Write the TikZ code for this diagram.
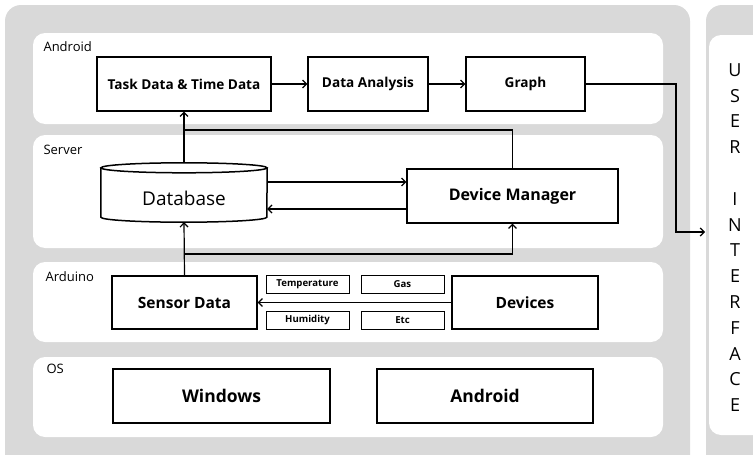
\documentclass[tikz,border=0pt]{standalone}
\usepackage{fontspec}
\setmainfont{Open Sans}
\usetikzlibrary{positioning,arrows.meta}

\definecolor{panelgray}{RGB}{217,217,217}

\tikzset{
  layer/.style={fill=white,rounded corners=12pt},
  box/.style={draw=black,line width=1.2pt,fill=white,inner sep=0pt},
  tag/.style={draw=black,line width=1pt,fill=white,inner sep=0pt,
    minimum height=18pt,font=\fontsize{9.6}{11}\selectfont\bfseries},
  lbl/.style={anchor=west,font=\fontsize{13}{15}\selectfont},
  link/.style={line width=1.2pt,-{Straight Barb[length=4pt,width=8pt]}}
}

\begin{document}
\begin{tikzpicture}[x=1pt,y=-1pt]
  \useasboundingbox (0,0) rectangle (753,455);
  \clip (0,0) rectangle (753,455);

  % panels
  \fill[panelgray,rounded corners=16pt] (5,5) rectangle (690,480);
  \fill[panelgray,rounded corners=16pt] (706,5) rectangle (780,480);
  \fill[layer] (709,35) rectangle (780,435);
  \fill[layer] (33,33) rectangle (663,124);
  \fill[layer] (33,135) rectangle (663,248);
  \fill[layer] (33,262) rectangle (663,342);
  \fill[layer] (33,357) rectangle (663,437);

  \node[lbl] (androidtag) at (40,47) {Android};
  \node[lbl] (servertag) at (40,150) {Server};
  \node[lbl] (arduinotag) at (42,277) {Arduino};
  \node[lbl] (ostag) at (43,369) {OS};

  % Android
  \node[box,minimum width=174pt,minimum height=54pt,font=\fontsize{13.6}{15}\selectfont\bfseries]
    (task) at (184,84) {Task Data \& Time Data};
  \node[box,minimum width=120pt,minimum height=54pt,font=\fontsize{13.6}{15}\selectfont\bfseries]
    (analysis) at (368,84) {Data Analysis};
  \node[box,minimum width=119pt,minimum height=54pt,font=\fontsize{13.6}{15}\selectfont\bfseries]
    (graph) at (525.5,84) {Graph};

  % Server
  \node[inner sep=0pt,minimum width=166pt,minimum height=59pt,font=\fontsize{19}{21}\selectfont]
    (db) at (184,192.5) {\raisebox{-13pt}[0pt][0pt]{Database}};
  \draw[line width=1.5pt] ([yshift=-5pt]db.north west) -- ([yshift=5pt]db.south west)
    arc[start angle=180,end angle=360,x radius=83pt,y radius=5pt]
    -- ([yshift=-5pt]db.north east);
  \draw[line width=1.5pt] ([yshift=-5pt]db.north) ellipse[x radius=83pt,y radius=5pt];
  \node[box,minimum width=211pt,minimum height=54pt,font=\fontsize{16}{18}\selectfont\bfseries]
    (devmgr) at (512.5,196) {Device Manager};

  % Arduino
  \node[box,minimum width=145pt,minimum height=53pt,font=\fontsize{15.5}{17}\selectfont\bfseries]
    (sensor) at (184.5,302.5) {Sensor Data};
  \node[tag,minimum width=83pt] (temp) at (307.5,284.5) {Temperature};
  \node[tag,minimum width=83pt] (humid) at (307.5,320) {Humidity};
  \node[tag,minimum width=83pt] (gas) at (402.5,284.5) {Gas};
  \node[tag,minimum width=83pt] (etc) at (402.5,320) {Etc};
  \node[box,minimum width=146pt,minimum height=53pt,font=\fontsize{15.5}{17}\selectfont\bfseries]
    (devices) at (525,302.5) {Devices};

  % OS
  \node[box,minimum width=217pt,minimum height=54pt,font=\fontsize{17.5}{19}\selectfont\bfseries]
    (windows) at (221.5,396) {Windows};
  \node[box,minimum width=216pt,minimum height=54pt,font=\fontsize{17.5}{19}\selectfont\bfseries]
    (androidos) at (485,396) {Android};

  % User interface
  \node[align=center,font=\fontsize{18}{25.8}\selectfont,inner sep=0pt,
    execute at begin node={\setlength{\baselineskip}{25.8pt}}]
    (ui) at (735,237.5) {U\\S\\E\\R\\[25.8pt]I\\N\\T\\E\\R\\F\\A\\C\\E};

  \coordinate (jtop) at (184,130);
  \coordinate (jbot) at (184,254);
  \coordinate (uiin) at (705,232);

  \path[link]
  (task) edge (analysis)
  (analysis) edge (graph)
  (db.north) edge (task.south)
  (sensor.north) edge (db.south)
  (devices.west) edge (sensor.east);

  \draw[line width=1.2pt] (devmgr.north) |- (jtop);
  \draw[link] (jbot) -| (devmgr.south);
  \draw[link] (graph.east) -| (676,232) -- (uiin);
  \draw[link] ([yshift=10.5pt]db.east) -- ([yshift=10.5pt]db.east -| devmgr.west);
  \draw[link] ([yshift=-13pt]devmgr.west) -- ([yshift=-13pt]devmgr.west -| db.east);
\end{tikzpicture}
\end{document}
